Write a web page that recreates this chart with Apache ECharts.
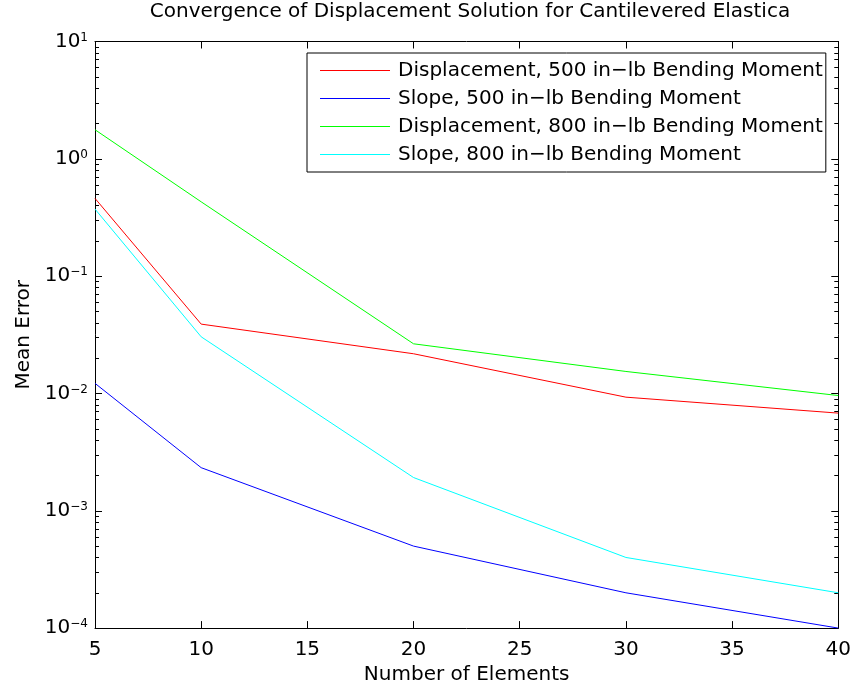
<!DOCTYPE html>
<html>
<head>
<meta charset="utf-8">
<script src="https://cdn.jsdelivr.net/npm/echarts@6/dist/echarts.min.js"></script>
<style>
html,body{margin:0;padding:0;background:#fff;}
#chart{width:854px;height:690px;}
</style>
</head>
<body>
<div id="chart"></div>
<script>
// ---- data ----
var elements = [5, 10, 20, 30, 40];
var disp500  = [0.46, 0.039, 0.0218, 0.0093, 0.0068];
var slope500 = [0.0122, 0.00233, 0.0005, 0.0002, 0.0001];
var disp800  = [1.77, 0.43, 0.0265, 0.0154, 0.0096];
var slope800 = [0.373, 0.0304, 0.00192, 0.0004, 0.0002];
var seriesNames = [
  'Displacement, 500 in\u2212lb Bending Moment',
  'Slope, 500 in\u2212lb Bending Moment',
  'Displacement, 800 in\u2212lb Bending Moment',
  'Slope, 800 in\u2212lb Bending Moment'
];
var seriesColors = ['#ff0000', '#0000ff', '#00ff00', '#00ffff'];
var seriesValues = [disp500, slope500, disp800, slope800];
var yMajorTicks = [1e-4, 1e-3, 1e-2, 1e-1, 1, 10];

// minor tick positions (2..9 x 10^k)
var yMinorTicks = [];
for (var k = -4; k < 1; k++) {
  for (var m = 2; m <= 9; m++) yMinorTicks.push(m * Math.pow(10, k));
}

var FONT = 'DejaVu Sans';
var chart = echarts.init(document.getElementById('chart'), null, {renderer: 'canvas'});

function pairs(vals) {
  return elements.map(function (x, i) { return [x, vals[i]]; });
}

var series = seriesValues.map(function (vals, i) {
  return {
    name: seriesNames[i],
    type: 'line',
    data: pairs(vals),
    xAxisIndex: 0,
    yAxisIndex: 0,
    symbol: 'none',
    showSymbol: false,
    silent: true,
    animation: false,
    color: seriesColors[i],
    lineStyle: {color: seriesColors[i], width: 1}
  };
});

var axisLineStyle = {color: '#000', width: 1};
function logAxis(extra) {
  var base = {
    type: 'log', logBase: 10, min: 1e-4, max: 10,
    splitLine: {show: false},
    axisLine: {show: true, lineStyle: axisLineStyle},
    axisLabel: {show: false},
    axisTick: {show: true, inside: true, length: 7, lineStyle: axisLineStyle}
  };
  return Object.assign(base, extra);
}

var option = {
  backgroundColor: '#fff',
  animation: false,
  textStyle: {fontFamily: FONT},
  title: {
    text: 'Convergence of Displacement Solution for Cantilevered Elastica',
    left: 470, top: 2, padding: 0, textAlign: 'center',
    textStyle: {fontFamily: FONT, fontSize: 20, fontWeight: 'normal', color: '#000'}
  },
  grid: {left: 95, right: 14, top: 41.5, bottom: 61, containLabel: false},
  legend: {
    orient: 'vertical',
    left: 307, top: 53,
    data: seriesNames.map(function (n, i) {
      return {name: n, icon: 'rect', itemStyle: {color: seriesColors[i]}};
    }),
    backgroundColor: '#fff',
    borderColor: '#000', borderWidth: 1, borderRadius: 0,
    padding: [7, 3, 7, 13],
    itemGap: 7,
    itemWidth: 70, itemHeight: 1.2,
    selectedMode: false,
    textStyle: {fontFamily: FONT, fontSize: 20, color: '#000', lineHeight: 21, width: 419, padding: [0, 0, 0, 3]}
  },
  xAxis: [
    {
      type: 'value', min: 5, max: 40, interval: 5, position: 'bottom',
      name: 'Number of Elements', nameLocation: 'middle', nameGap: 31,
      nameTextStyle: {fontFamily: FONT, fontSize: 20, color: '#000'},
      splitLine: {show: false},
      axisLine: {show: true, lineStyle: axisLineStyle},
      axisTick: {show: true, inside: true, length: 7, lineStyle: axisLineStyle},
      axisLabel: {fontFamily: FONT, fontSize: 20, color: '#000', margin: 12}
    },
    {
      type: 'value', min: 5, max: 40, interval: 5, position: 'top',
      splitLine: {show: false},
      axisLine: {show: true, lineStyle: axisLineStyle},
      axisTick: {show: true, inside: true, length: 7, lineStyle: axisLineStyle},
      axisLabel: {show: false}
    }
  ],
  yAxis: [
    logAxis({
      position: 'left',
      name: 'Mean Error', nameLocation: 'middle', nameGap: 58,
      nameTextStyle: {fontFamily: FONT, fontSize: 20, color: '#000'},
      axisTick: {show: true, inside: true, length: 7, lineStyle: axisLineStyle, customValues: yMajorTicks},
      axisLabel: {
        show: true, margin: 7, customValues: yMajorTicks,
        formatter: function (v) {
          var e = Math.round(Math.log10(v));
          return '{b|10}{e|' + String(e).replace('-', '\u2212') + '}';
        },
        rich: {
          b: {fontFamily: FONT, fontSize: 20, lineHeight: 20, color: '#000'},
          e: {fontFamily: FONT, fontSize: 12, lineHeight: 12, color: '#000', verticalAlign: 'top', padding: [0, 0, 20, 0]}
        }
      }
    }),
    logAxis({
      position: 'left',
      axisLine: {show: false},
      axisTick: {show: true, inside: true, length: 4, lineStyle: axisLineStyle, customValues: yMinorTicks}
    }),
    logAxis({
      position: 'right',
      axisTick: {show: true, inside: true, length: 7, lineStyle: axisLineStyle, customValues: yMajorTicks}
    }),
    logAxis({
      position: 'right',
      axisLine: {show: false},
      axisTick: {show: true, inside: true, length: 4, lineStyle: axisLineStyle, customValues: yMinorTicks}
    })
  ],
  series: series
};
chart.setOption(option);
</script>
</body>
</html>
